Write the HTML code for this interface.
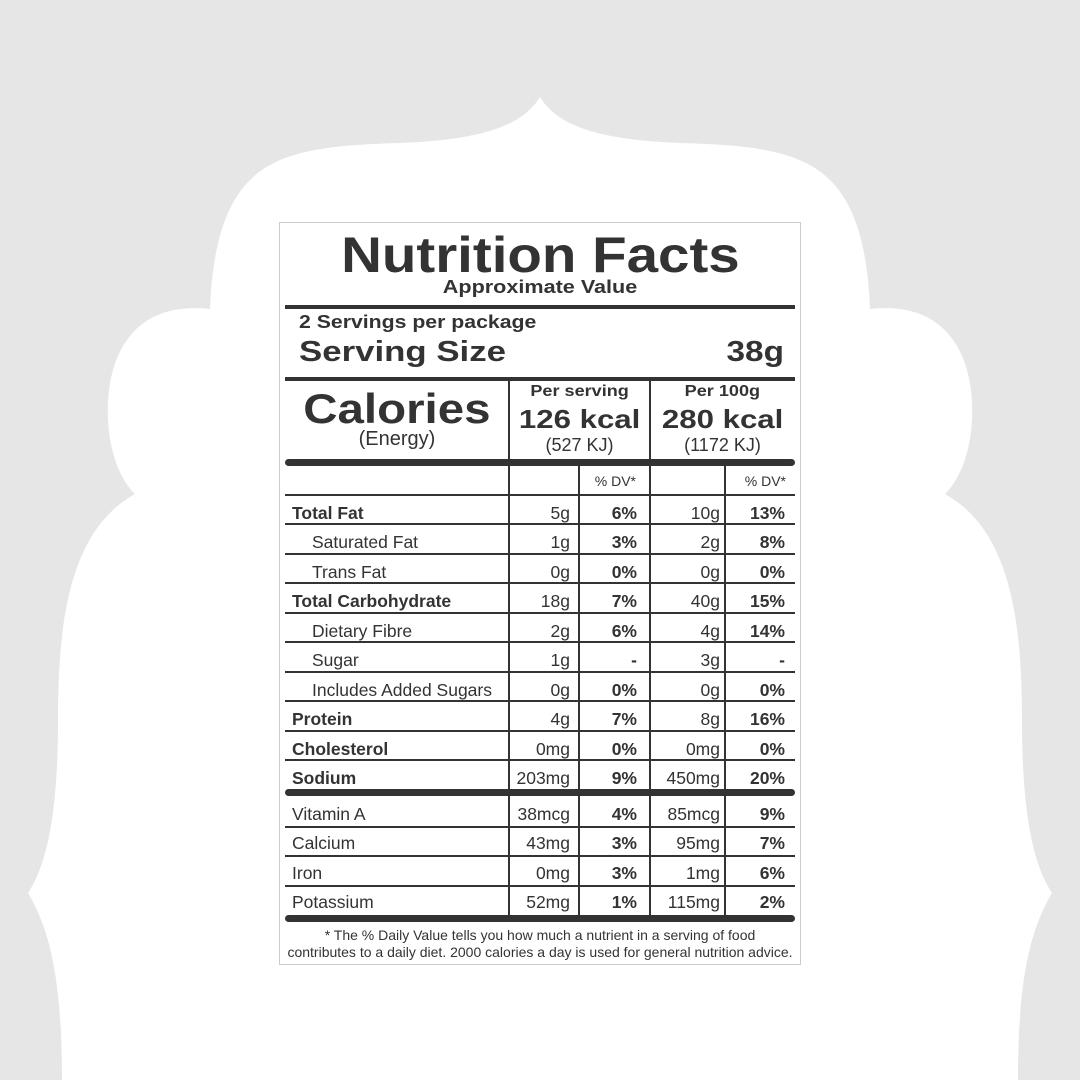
<!DOCTYPE html>
<html><head><meta charset="utf-8"><style>
html,body{margin:0;padding:0}
body{width:1080px;height:1080px;position:relative;background:#e6e6e6;font-family:"Liberation Sans",Arial,sans-serif;color:#333;overflow:hidden}
.a{position:absolute;white-space:nowrap}
.s{display:inline-block}
.h{position:absolute;background:#333;left:285px;width:510px}
.v{position:absolute;background:#333;width:2px}
.r{position:absolute;height:29px;left:285px;width:510px;font-size:17.5px}
.r span{position:absolute;top:6px}
.n{left:7px}.i{left:27px}
.c1{right:225px}.c2{right:158px}.c3{right:75px}.c4{right:10px;font-weight:bold}
.c2{font-weight:bold}
.b{font-weight:bold}
</style></head><body>
<svg class="a" style="left:0;top:0" width="1080" height="1080">
<path fill="#fff" d="M540,97 C520,130 470,140 400,143 C330,145 280,150 250,180 C220,210 212,260 210,309 C130,300 105,360 108,420 C110,460 125,485 135,494 C70,530 58,620 58,720 C58,800 50,860 28,893 C50,930 62,980 62,1080 L1018,1080 C1018,980 1030,930 1052,893 C1030,860 1022,800 1022,720 C1022,620 1010,530 945,494 C955,485 970,460 972,420 C975,360 950,300 870,309 C868,260 860,210 830,180 C800,150 750,145 680,143 C610,140 560,130 540,97 Z"/>
</svg>
<div class="a" style="left:279px;top:222px;width:520px;height:741px;background:#fff;border:1px solid #ccc"></div>
<div class="a b" style="left:279px;width:522px;text-align:center;top:226px;font-size:50px"><span class="s" style="transform:scaleX(1.13)">Nutrition Facts</span></div>
<div class="a b" style="left:279px;width:522px;text-align:center;top:277px;font-size:18px"><span class="s" style="transform:scaleX(1.2)">Approximate Value</span></div>
<div class="h" style="top:305px;height:4px"></div>
<div class="a b" style="left:299px;top:312px;font-size:18px;transform-origin:left;transform:scaleX(1.18)">2 Servings per package</div>
<div class="a b" style="left:299px;top:336px;font-size:29px;transform-origin:left;transform:scaleX(1.2)">Serving Size</div>
<div class="a b" style="right:296px;top:336px;font-size:29px;transform-origin:right;transform:scaleX(1.15)">38g</div>
<div class="h" style="top:377px;height:4px"></div>
<div class="a b" style="left:285px;width:224px;text-align:center;top:385px;font-size:42px"><span class="s" style="transform:scaleX(1.13)">Calories</span></div>
<div class="a" style="left:285px;width:224px;text-align:center;top:428px;font-size:20px">(Energy)</div>
<div class="a b" style="left:509px;width:141px;text-align:center;top:383px;font-size:16px"><span class="s" style="transform:scaleX(1.13)">Per serving</span></div>
<div class="a b" style="left:509px;width:141px;text-align:center;top:404px;font-size:26px"><span class="s" style="transform:scaleX(1.2)">126 kcal</span></div>
<div class="a" style="left:509px;width:141px;text-align:center;top:435px;font-size:18px">(527 KJ)</div>
<div class="a b" style="left:650px;width:145px;text-align:center;top:383px;font-size:16px"><span class="s" style="transform:scaleX(1.13)">Per 100g</span></div>
<div class="a b" style="left:650px;width:145px;text-align:center;top:404px;font-size:26px"><span class="s" style="transform:scaleX(1.2)">280 kcal</span></div>
<div class="a" style="left:650px;width:145px;text-align:center;top:435px;font-size:18px">(1172 KJ)</div>
<div class="h" style="top:459px;height:7px;border-radius:4px"></div>
<div class="v" style="left:508px;top:379px;height:540px"></div>
<div class="v" style="left:649px;top:379px;height:540px"></div>
<div class="v" style="left:578px;top:466px;height:453px"></div>
<div class="v" style="left:724px;top:466px;height:453px"></div>
<div class="a" style="right:444px;top:473px;font-size:14px">% DV*</div>
<div class="a" style="right:294px;top:473px;font-size:14px">% DV*</div>
<div class="h" style="top:494px;height:2px"></div>
<div class="h" style="top:523px;height:2px"></div>
<div class="h" style="top:553px;height:2px"></div>
<div class="h" style="top:582px;height:2px"></div>
<div class="h" style="top:612px;height:2px"></div>
<div class="h" style="top:641px;height:2px"></div>
<div class="h" style="top:671px;height:2px"></div>
<div class="h" style="top:700px;height:2px"></div>
<div class="h" style="top:730px;height:2px"></div>
<div class="h" style="top:759px;height:2px"></div>
<div class="h" style="top:789px;height:7px;border-radius:4px"></div>
<div class="h" style="top:826px;height:2px"></div>
<div class="h" style="top:855px;height:2px"></div>
<div class="h" style="top:885px;height:2px"></div>
<div class="h" style="top:915px;height:7px;border-radius:4px"></div>

<div class="r" style="top:497px"><span class="n b">Total Fat</span><span class="c1">5g</span><span class="c2">6%</span><span class="c3">10g</span><span class="c4">13%</span></div>
<div class="r" style="top:526px"><span class="i">Saturated Fat</span><span class="c1">1g</span><span class="c2">3%</span><span class="c3">2g</span><span class="c4">8%</span></div>
<div class="r" style="top:556px"><span class="i">Trans Fat</span><span class="c1">0g</span><span class="c2">0%</span><span class="c3">0g</span><span class="c4">0%</span></div>
<div class="r" style="top:585px"><span class="n b">Total Carbohydrate</span><span class="c1">18g</span><span class="c2">7%</span><span class="c3">40g</span><span class="c4">15%</span></div>
<div class="r" style="top:615px"><span class="i">Dietary Fibre</span><span class="c1">2g</span><span class="c2">6%</span><span class="c3">4g</span><span class="c4">14%</span></div>
<div class="r" style="top:644px"><span class="i">Sugar</span><span class="c1">1g</span><span class="c2">-</span><span class="c3">3g</span><span class="c4">-</span></div>
<div class="r" style="top:674px"><span class="i">Includes Added Sugars</span><span class="c1">0g</span><span class="c2">0%</span><span class="c3">0g</span><span class="c4">0%</span></div>
<div class="r" style="top:703px"><span class="n b">Protein</span><span class="c1">4g</span><span class="c2">7%</span><span class="c3">8g</span><span class="c4">16%</span></div>
<div class="r" style="top:733px"><span class="n b">Cholesterol</span><span class="c1">0mg</span><span class="c2">0%</span><span class="c3">0mg</span><span class="c4">0%</span></div>
<div class="r" style="top:762px"><span class="n b">Sodium</span><span class="c1">203mg</span><span class="c2">9%</span><span class="c3">450mg</span><span class="c4">20%</span></div>
<div class="r" style="top:798px"><span class="n">Vitamin A</span><span class="c1">38mcg</span><span class="c2">4%</span><span class="c3">85mcg</span><span class="c4">9%</span></div>
<div class="r" style="top:827px"><span class="n">Calcium</span><span class="c1">43mg</span><span class="c2">3%</span><span class="c3">95mg</span><span class="c4">7%</span></div>
<div class="r" style="top:857px"><span class="n">Iron</span><span class="c1">0mg</span><span class="c2">3%</span><span class="c3">1mg</span><span class="c4">6%</span></div>
<div class="r" style="top:886px"><span class="n">Potassium</span><span class="c1">52mg</span><span class="c2">1%</span><span class="c3">115mg</span><span class="c4">2%</span></div>

<div class="a" style="left:279px;width:522px;text-align:center;top:927px;font-size:14px;line-height:17px">* The % Daily Value tells you how much a nutrient in a serving of food<br>contributes to a daily diet. 2000 calories a day is used for general nutrition advice.</div>
</body></html>
